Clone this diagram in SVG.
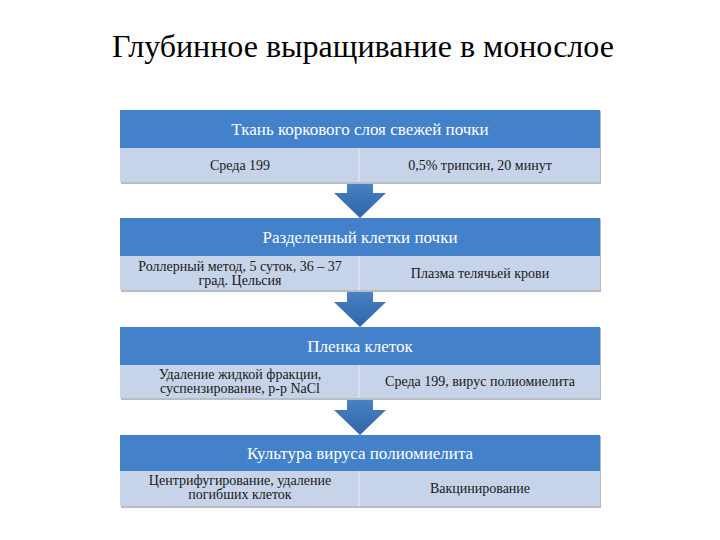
<svg xmlns="http://www.w3.org/2000/svg" width="720" height="540" viewBox="0 0 720 540">
<style>
.hdr{fill:#4381ca}
.sub{fill:#c6d3e8}
.div{stroke:#e8eef7;stroke-width:1}
.ht{font-family:"Liberation Serif","Times New Roman",serif;font-size:17px;fill:#ffffff;text-anchor:middle}
.st{font-family:"Liberation Serif","Times New Roman",serif;font-size:14px;fill:#1a1a1a;text-anchor:middle}
.title{font-family:"Liberation Serif","Times New Roman",serif;font-size:32px;fill:#000;text-anchor:middle}
.arr{fill:url(#ag)}
.shadow{fill:#b9bcc2}
</style>
<defs>
<linearGradient id="ag" x1="0" y1="0" x2="0" y2="1">
<stop offset="0" stop-color="#4a82c6"/>
<stop offset="1" stop-color="#2f64a8"/>
</linearGradient>
</defs>
<rect width="720" height="540" fill="#ffffff"/>
<text class="title" x="363" y="57">Глубинное выращивание в монослое</text>

<g id="connectors">
<path class="arr" d="M347,182 H373 V193 H386 L360,218 L334,193 H347 Z"/>
<path class="arr" d="M347,290 H373 V302 H386 L360,327 L334,302 H347 Z"/>
<path class="arr" d="M347,398 H373 V410 H386 L360,435 L334,410 H347 Z"/>
</g>

<g id="node1">
<rect class="shadow" x="121" y="111" width="480" height="73"/>
<rect class="hdr" x="120" y="110" width="480" height="38"/>
<rect class="sub" x="120" y="148" width="480" height="34"/>
<line class="div" x1="359" y1="148" x2="359" y2="182"/>
<text class="ht" x="360" y="135">Ткань коркового слоя свежей почки</text>
<text class="st" x="240" y="170">Среда 199</text>
<text class="st" x="480" y="170">0,5% трипсин, 20 минут</text>
</g>

<g id="node2">
<rect class="shadow" x="121" y="219" width="480" height="73"/>
<rect class="hdr" x="120" y="218" width="480" height="38"/>
<rect class="sub" x="120" y="256" width="480" height="34"/>
<line class="div" x1="359" y1="256" x2="359" y2="290"/>
<text class="ht" x="360" y="243">Разделенный клетки почки</text>
<text class="st" x="240" y="271">Роллерный метод, 5 суток, 36 – 37</text>
<text class="st" x="240" y="285">град. Цельсия</text>
<text class="st" x="480" y="278">Плазма телячьей крови</text>
</g>

<g id="node3">
<rect class="shadow" x="121" y="328" width="480" height="72"/>
<rect class="hdr" x="120" y="327" width="480" height="38"/>
<rect class="sub" x="120" y="365" width="480" height="33"/>
<line class="div" x1="359" y1="365" x2="359" y2="398"/>
<text class="ht" x="360" y="352">Пленка клеток</text>
<text class="st" x="240" y="379">Удаление жидкой фракции,</text>
<text class="st" x="240" y="393">суспензирование, р-р NaCl</text>
<text class="st" x="480" y="386">Среда 199, вирус полиомиелита</text>
</g>

<g id="node4">
<rect class="shadow" x="121" y="436" width="480" height="72"/>
<rect class="hdr" x="120" y="435" width="480" height="36"/>
<rect class="sub" x="120" y="471" width="480" height="35"/>
<line class="div" x1="359" y1="471" x2="359" y2="506"/>
<text class="ht" x="360" y="459">Культура вируса полиомиелита</text>
<text class="st" x="240" y="485">Центрифугирование, удаление</text>
<text class="st" x="240" y="499">погибших клеток</text>
<text class="st" x="480" y="493">Вакцинирование</text>
</g>
</svg>
